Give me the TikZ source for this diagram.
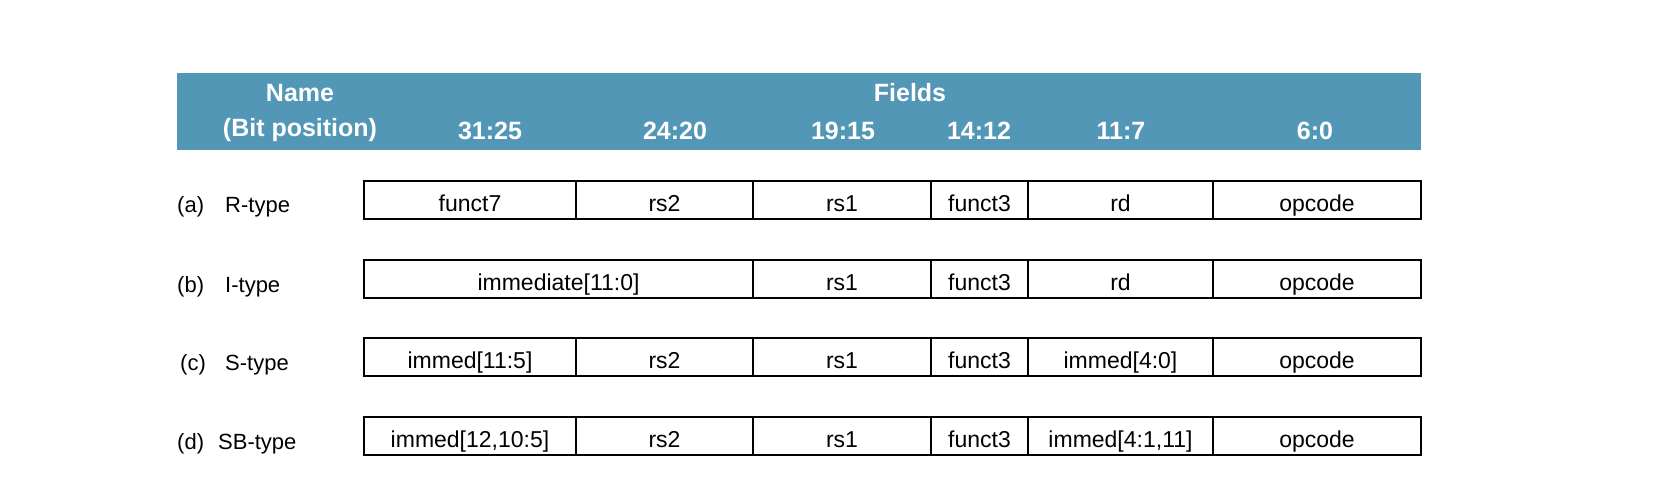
\documentclass[tikz,border=0pt]{standalone}
\usepackage{fontspec}
\setmainfont{Liberation Sans}
\definecolor{hdr}{RGB}{83,151,183}
\begin{document}
\begin{tikzpicture}[x=1pt,y=-1pt,
  cell/.style={draw=black, line width=1.3pt, minimum height=38pt, inner sep=0pt, outer sep=0pt,
    text height=23pt, text depth=0pt, font=\fontsize{23}{28}\selectfont, anchor=north west},
  hd/.style={text=white, inner sep=0pt, anchor=base, font=\bfseries\fontsize{25}{30}\selectfont},
  lab/.style={inner sep=0pt, anchor=base west, font=\fontsize{22}{26}\selectfont}]
\useasboundingbox (0,0) rectangle (1662,478);
\fill[hdr] (177,73) rectangle (1421,150);
% header texts
\node[hd] (name) at (300,102) {Name};
\node[hd] (bitpos) at (300,137) {(Bit position)};
\node[hd] (fields) at (910,102) {Fields};
\node[hd] (h1) at (490,140) {31:25};
\node[hd] (h2) at (675,140) {24:20};
\node[hd] (h3) at (843,140) {19:15};
\node[hd] (h4) at (979,140) {14:12};
\node[hd] (h5) at (1121,140) {11:7};
\node[hd] (h6) at (1315,140) {6:0};
% row labels
\node[lab] (la1) at (177,213) {(a)};
\node[lab] (la2) at (225,213) {R-type};
\node[lab] (lb1) at (177,292) {(b)};
\node[lab] (lb2) at (225,292) {I-type};
\node[lab] (lc1) at (180,370) {(c)};
\node[lab] (lc2) at (225,370) {S-type};
\node[lab] (ld1) at (177,449) {(d)};
\node[lab] (ld2) at (218,449) {SB-type};
% row a
\node[cell, minimum width=212pt] (a1) at (364,181) {funct7};
\node[cell, minimum width=177pt] (a2) at (576,181) {rs2};
\node[cell, minimum width=178pt] (a3) at (753,181) {rs1};
\node[cell, minimum width=97pt]  (a4) at (931,181) {funct3};
\node[cell, minimum width=185pt] (a5) at (1028,181) {rd};
\node[cell, minimum width=208pt] (a6) at (1213,181) {opcode};
% row b
\node[cell, minimum width=389pt] (b1) at (364,260) {immediate[11:0]};
\node[cell, minimum width=178pt] (b3) at (753,260) {rs1};
\node[cell, minimum width=97pt]  (b4) at (931,260) {funct3};
\node[cell, minimum width=185pt] (b5) at (1028,260) {rd};
\node[cell, minimum width=208pt] (b6) at (1213,260) {opcode};
% row c
\node[cell, minimum width=212pt] (c1) at (364,338) {immed[11:5]};
\node[cell, minimum width=177pt] (c2) at (576,338) {rs2};
\node[cell, minimum width=178pt] (c3) at (753,338) {rs1};
\node[cell, minimum width=97pt]  (c4) at (931,338) {funct3};
\node[cell, minimum width=185pt] (c5) at (1028,338) {immed[4:0]};
\node[cell, minimum width=208pt] (c6) at (1213,338) {opcode};
% row d
\node[cell, minimum width=212pt] (d1) at (364,417) {immed[12,10:5]};
\node[cell, minimum width=177pt] (d2) at (576,417) {rs2};
\node[cell, minimum width=178pt] (d3) at (753,417) {rs1};
\node[cell, minimum width=97pt]  (d4) at (931,417) {funct3};
\node[cell, minimum width=185pt] (d5) at (1028,417) {immed[4:1,11]};
\node[cell, minimum width=208pt] (d6) at (1213,417) {opcode};
\end{tikzpicture}
\end{document}
